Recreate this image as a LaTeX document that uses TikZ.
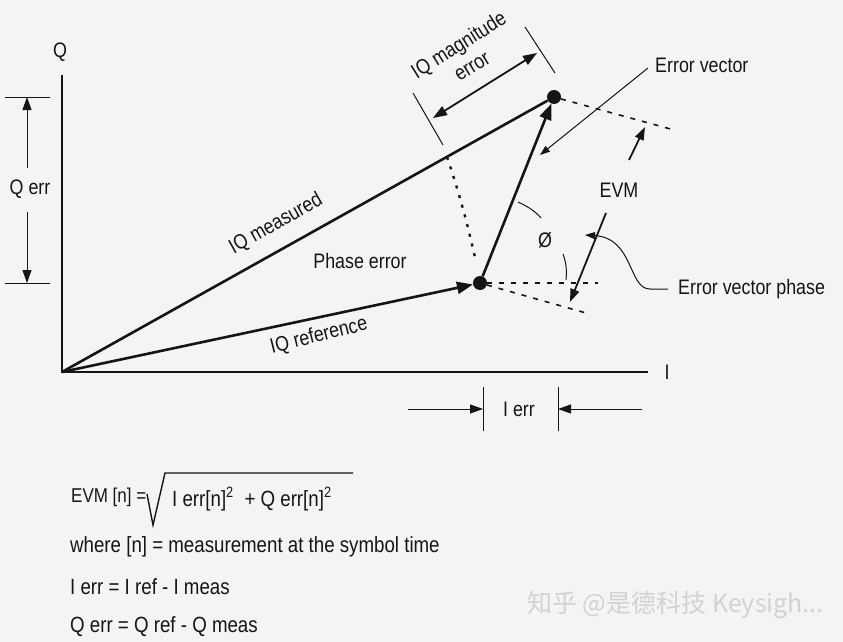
\documentclass[tikz,border=0pt]{standalone}
\usepackage{fontspec}
\setmainfont{Liberation Sans}[FakeStretch=0.85]
\newfontfamily\cjk{Noto Sans CJK SC}
\usetikzlibrary{arrows.meta}
\definecolor{bg}{HTML}{F4F4F4}
\definecolor{ink}{HTML}{151515}
\definecolor{wm}{HTML}{D2D2D2}
\begin{document}
\begin{tikzpicture}[x=1pt,y=-1pt,
  font=\fontsize{21}{25}\selectfont,
  lbl/.style={inner sep=0pt, text=ink},
  fml/.style={inner sep=0pt, text=ink, font=\fontsize{22}{26}\selectfont},
  axis/.style={line width=1.8pt, draw=ink},
  vec/.style={line width=2.6pt, draw=ink},
  thinl/.style={line width=1pt, draw=ink},
  midl/.style={line width=1.8pt, draw=ink},
  dot/.style={circle, fill=ink, minimum size=14pt, inner sep=0pt},
  bigtip/.style={-{Triangle[length=16pt,width=12pt]}},
  medtip/.style={-{Triangle[length=13pt,width=9pt]}},
  smalltip/.style={-{Triangle[length=10pt,width=7pt]}},
  dashl/.style={line width=1.6pt, draw=ink, dash pattern=on 5pt off 7pt},
  dotl/.style={line width=2.4pt, draw=ink, dash pattern=on 3pt off 7pt},
]
\fill[bg] (0,0) rectangle (843,642);
\useasboundingbox (0,0) rectangle (843,642);

% axes
\coordinate (O) at (62,372);
\coordinate (Qtop) at (62,75);
\coordinate (Iend) at (648,372);
\node[lbl] (Qlab) at (60,52) {Q};
\node[lbl] (Ilab) at (667,372) {I};
\draw[axis] (Qtop) -- (O) -- (Iend);

% Q err
\coordinate (qt1) at (5,97); \coordinate (qt2) at (50,97);
\coordinate (qb1) at (5,283); \coordinate (qb2) at (50,283);
\draw[thinl] (qt1) -- (qt2);
\draw[thinl] (qb1) -- (qb2);
\node[lbl] (Qerr) at (30,189) {Q err};
\coordinate (qa1) at (27,168); \coordinate (qa2) at (27,97);
\coordinate (qa3) at (27,212); \coordinate (qa4) at (27,283);
\draw[thinl, medtip] (qa1) -- (qa2);
\draw[thinl, medtip] (qa3) -- (qa4);

% I err
\coordinate (it1) at (483,387); \coordinate (it2) at (483,431);
\coordinate (it3) at (558,387); \coordinate (it4) at (558,431);
\draw[thinl] (it1) -- (it2);
\draw[thinl] (it3) -- (it4);
\node[lbl] (Ierr) at (519,409) {I err};
\coordinate (ia1) at (408,409); \coordinate (ia2) at (483,409);
\coordinate (ia3) at (642,409); \coordinate (ia4) at (558,409);
\draw[thinl, medtip] (ia1) -- (ia2);
\draw[thinl, medtip] (ia3) -- (ia4);

% points
\node[dot] (R) at (480,283) {};
\node[dot] (M) at (554,97) {};

% dotted / dashed construction lines
\coordinate (d1) at (447,157); \coordinate (d2) at (476,262);
\draw[dotl] (d1) .. controls (460,195) and (469,230) .. (d2);
\coordinate (mx) at (674,130);
\draw[dashl] (M) -- (mx);
\coordinate (rh) at (598,283);
\coordinate (rd) at (586,313);
\draw[dashl] (R) -- (rh);
\draw[dashl] (R) -- (rd);

% vectors
\draw[vec] (O) -- (M);
\draw[vec, bigtip] (O) -- (R);
\draw[vec, bigtip] (R) -- (M);

% IQ magnitude error
\coordinate (m1) at (413,93); \coordinate (m2) at (443,145);
\coordinate (m3) at (525,27); \coordinate (m4) at (555,73);
\draw[thinl] (m1) -- (m2);
\draw[thinl] (m3) -- (m4);
\coordinate (ma1) at (433,118); \coordinate (ma2) at (537,53);
\draw[midl, {Triangle[length=14pt,width=10pt]}-{Triangle[length=14pt,width=10pt]}] (ma1) -- (ma2);
\node[lbl, align=center, rotate=32] (magl) at (465,55) {IQ magnitude\\error};

% EVM
\coordinate (e1) at (629,160); \coordinate (e2) at (645,127);
\coordinate (e3) at (606,213); \coordinate (e4) at (570,302);
\draw[midl, medtip] (e1) -- (e2);
\draw[midl, medtip] (e3) -- (e4);
\node[lbl] (evml) at (619,190) {EVM};

% angle
\coordinate (a1) at (518,202); \coordinate (a2) at (541,218);
\coordinate (a3) at (563,254); \coordinate (a4) at (566,280);
\draw[thinl] (a1) .. controls (529,207) and (536,212) .. (a2);
\draw[thinl] (a3) .. controls (566,262) and (567,270) .. (a4);
\node[lbl] (phi) at (545,240) {Ø};

% error vector label
\node[lbl, anchor=west] (evlab) at (655,65) {Error vector};
\coordinate (ev1) at (648,68); \coordinate (ev2) at (540,155);
\draw[thinl, smalltip] (ev1) -- (ev2);

% error vector phase label
\node[lbl, anchor=west] (evplab) at (678,289) {Error vector phase};
\coordinate (p1) at (668,289); \coordinate (p2) at (650,289); \coordinate (p3) at (585,235);
\draw[thinl, smalltip] (p1) -- (p2) .. controls (628,289) and (634,238) .. (p3);

% vector labels
\node[lbl, rotate=29.5] (meas) at (276,224) {IQ measured};
\node[lbl, rotate=14] (ref) at (319,336) {IQ reference};
\node[lbl] (perr) at (360,261) {Phase error};

% formulas
\node[lbl, anchor=west, font=\fontsize{20}{24}\selectfont] (f1) at (71,497) {EVM [n] =};
\coordinate (r1) at (147,494); \coordinate (r2) at (153,525);
\coordinate (r3) at (165,473); \coordinate (r4) at (353,473);
\draw[line width=1.4pt, draw=ink] (r1) -- (r2) -- (r3) -- (r4);
\node[fml, anchor=west] (f1b) at (172,499) {I err[n]\raisebox{9pt}{\fontsize{15}{15}\selectfont 2}\hspace{6pt} + Q err[n]\raisebox{9pt}{\fontsize{15}{15}\selectfont 2}};
\node[fml, anchor=west] (f2) at (70,547) {where [n] = measurement at the symbol time};
\node[fml, anchor=west] (f3) at (70,587) {I err = I ref - I meas};
\node[fml, anchor=west] (f4) at (70,627) {Q err = Q ref - Q meas};

% watermark
\node[inner sep=0pt, anchor=west, text=wm, font=\fontsize{25}{28}\cjk] (wmk) at (527,605) {知乎 @是德科技 Keysigh...};
\end{tikzpicture}
\end{document}
